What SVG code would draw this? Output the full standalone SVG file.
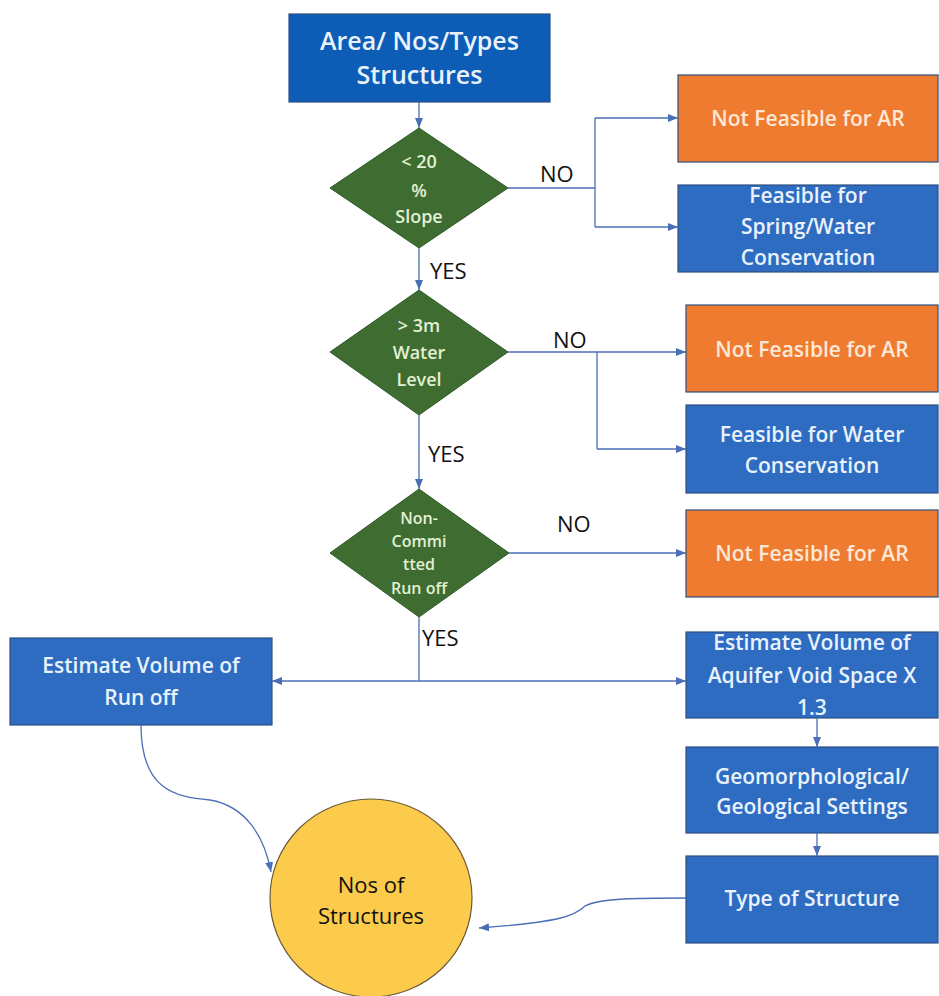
<svg xmlns="http://www.w3.org/2000/svg" width="939" height="996" viewBox="0 0 939 996">
<defs>
<marker id="ah" markerWidth="10" markerHeight="10" viewBox="0 0 10 10" refX="10" refY="5" orient="auto" markerUnits="userSpaceOnUse">
<path d="M0,1 L10,5 L0,9 z" fill="#4a6fb5"/>
</marker>
<style>
.box{stroke:#2f4f80;stroke-width:1.2}
.blue{fill:#2e6cc2}
.top{fill:#0d5cb6}
.orange{fill:#ef7b30}
.dia{fill:#3e6c31;stroke:#2f5a28;stroke-width:1}
.tb{font-family:"Open Sans","Liberation Sans",sans-serif;font-size:21px;font-weight:600;fill:#e9f2fb;text-anchor:middle}
.to{font-family:"Open Sans","Liberation Sans",sans-serif;font-size:21px;font-weight:600;fill:#fde8d6;text-anchor:middle}
.td{font-family:"Open Sans","Liberation Sans",sans-serif;font-size:18px;font-weight:600;fill:#e2f0d4;text-anchor:middle}
.lab{font-family:"Open Sans","Liberation Sans",sans-serif;font-size:22px;fill:#111}
.con{fill:none;stroke:#4a6fb5;stroke-width:1.3}
</style>
</defs>
<rect width="939" height="996" fill="#ffffff"/>

<g id="n-top">
<rect class="box top" x="289" y="14" width="261" height="88"/>
<text class="tb" x="419.5" y="50" style="font-size:25px">Area/ Nos/Types</text>
<text class="tb" x="419.5" y="84" style="font-size:25px">Structures</text>
</g>

<g id="n-slope">
<polygon class="dia" points="419,128 508,188 419,248 330,188"/>
<text class="td" x="419" y="168">&lt; 20</text>
<text class="td" x="419" y="197">%</text>
<text class="td" x="419" y="223">Slope</text>
</g>

<g id="n-nf1">
<rect class="box orange" x="678" y="75" width="260" height="87"/>
<text class="to" x="808" y="126">Not Feasible for AR</text>
</g>

<g id="n-spring">
<rect class="box blue" x="678" y="185" width="260" height="87"/>
<text class="tb" x="808" y="203">Feasible for</text>
<text class="tb" x="808" y="234">Spring/Water</text>
<text class="tb" x="808" y="265">Conservation</text>
</g>

<g id="n-water">
<polygon class="dia" points="419,290 508,352 419,415 330,352"/>
<text class="td" x="419" y="332">&gt; 3m</text>
<text class="td" x="419" y="359">Water</text>
<text class="td" x="419" y="386">Level</text>
</g>

<g id="n-nf2">
<rect class="box orange" x="686" y="305" width="252" height="87"/>
<text class="to" x="812" y="357">Not Feasible for AR</text>
</g>

<g id="n-wc">
<rect class="box blue" x="686" y="405" width="252" height="88"/>
<text class="tb" x="812" y="442">Feasible for Water</text>
<text class="tb" x="812" y="473">Conservation</text>
</g>

<g id="n-runoff">
<polygon class="dia" points="419,489 509,553 419,617 330,553"/>
<text class="td" x="419" y="524" style="font-size:16px">Non-</text>
<text class="td" x="419" y="547" style="font-size:16px">Commi</text>
<text class="td" x="419" y="570" style="font-size:16px">tted</text>
<text class="td" x="419" y="594" style="font-size:16px">Run off</text>
</g>

<g id="n-nf3">
<rect class="box orange" x="686" y="510" width="252" height="87"/>
<text class="to" x="812" y="561">Not Feasible for AR</text>
</g>

<g id="n-estrun">
<rect class="box blue" x="10" y="638" width="262" height="87"/>
<text class="tb" x="141" y="673">Estimate Volume of</text>
<text class="tb" x="141" y="705">Run off</text>
</g>

<g id="n-aquifer">
<rect class="box blue" x="686" y="632" width="252" height="86"/>
<text class="tb" x="812" y="650">Estimate Volume of</text>
<text class="tb" x="812" y="683">Aquifer Void Space X</text>
<text class="tb" x="812" y="715">1.3</text>
</g>

<g id="n-geo">
<rect class="box blue" x="686" y="747" width="252" height="86"/>
<text class="tb" x="812" y="784">Geomorphological/</text>
<text class="tb" x="812" y="814">Geological Settings</text>
</g>

<g id="n-type">
<rect class="box blue" x="686" y="856" width="252" height="87"/>
<text class="tb" x="812" y="906">Type of Structure</text>
</g>

<g id="n-nos">
<ellipse cx="371" cy="898" rx="101" ry="99" fill="#fccb4c" stroke="#6b5a3a" stroke-width="1.2"/>
<text class="lab" x="371" y="893" text-anchor="middle" style="font-weight:500">Nos of</text>
<text class="lab" x="371" y="924" text-anchor="middle" style="font-weight:500">Structures</text>
</g>

<g id="connectors">
<path class="con" d="M419,102 V128" marker-end="url(#ah)"/>
<path class="con" d="M508,188 H595 M595,118 V227"/>
<path class="con" d="M595,118 H678" marker-end="url(#ah)"/>
<path class="con" d="M595,227 H678" marker-end="url(#ah)"/>
<path class="con" d="M419,248 V290" marker-end="url(#ah)"/>
<path class="con" d="M508,352 H597 V449"/>
<path class="con" d="M597,352 H686" marker-end="url(#ah)"/>
<path class="con" d="M597,449 H686" marker-end="url(#ah)"/>
<path class="con" d="M419,415 V489" marker-end="url(#ah)"/>
<path class="con" d="M509,553 H686" marker-end="url(#ah)"/>
<path class="con" d="M419,617 V681"/>
<path class="con" d="M419,681 H272" marker-end="url(#ah)"/>
<path class="con" d="M419,681 H686" marker-end="url(#ah)"/>
<path class="con" d="M817,718 V747" marker-end="url(#ah)"/>
<path class="con" d="M817,833 V856" marker-end="url(#ah)"/>
<path class="con" d="M141,725 C141,790 175,797 210,800 C245,806 264,835 271,872" marker-end="url(#ah)"/>
<path class="con" d="M686,898 C640,898 600,898 585,906 C575,916 560,922 479,928" marker-end="url(#ah)"/>
<text class="lab" x="540" y="182">NO</text>
<text class="lab" x="430" y="279">YES</text>
<text class="lab" x="553" y="348">NO</text>
<text class="lab" x="428" y="462">YES</text>
<text class="lab" x="557" y="532">NO</text>
<text class="lab" x="422" y="646">YES</text>
</g>
</svg>
